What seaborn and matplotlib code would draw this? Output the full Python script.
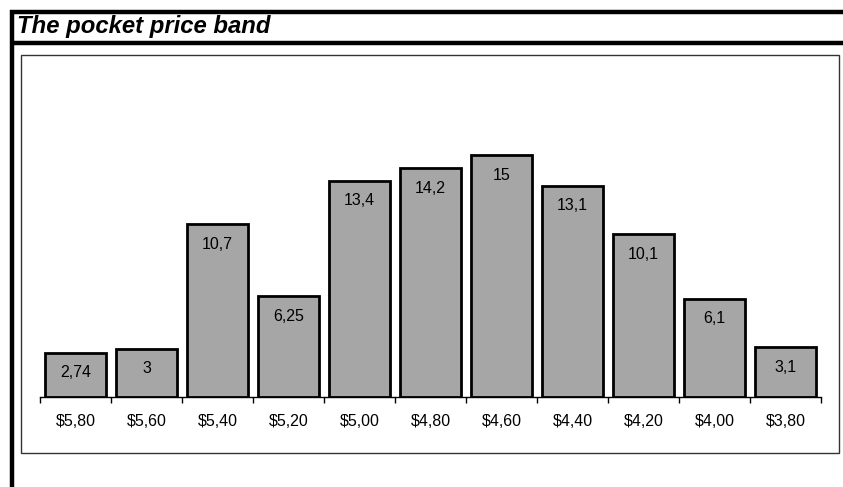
import matplotlib
matplotlib.use("Agg")
import matplotlib.pyplot as plt
import seaborn as sns
import pandas as pd
from matplotlib.patches import Rectangle
from matplotlib.lines import Line2D

prices = ["$5,80", "$5,60", "$5,40", "$5,20", "$5,00", "$4,80",
          "$4,60", "$4,40", "$4,20", "$4,00", "$3,80"]
shares = [2.74, 3, 10.7, 6.25, 13.4, 14.2, 15, 13.1, 10.1, 6.1, 3.1]
title = "The pocket price band"

W, H = 843, 487


def fx(px):
    return px / W


def fy(py):
    return 1 - py / H


def main():
    sns.set_style("white")
    plt.rcParams["font.family"] = ["Liberation Sans", "DejaVu Sans"]
    plt.rcParams["text.color"] = "black"
    plt.rcParams["xtick.color"] = "black"

    df = pd.DataFrame({"price": prices, "share": shares})

    fig = plt.figure(figsize=(W / 100, H / 100), dpi=100)

    # frame: thick top / left lines, title separator, inner plot box
    kw = dict(color="black", lw=3.2, solid_capstyle="butt")
    fig.add_artist(Line2D([fx(10), fx(843)], [fy(11.5), fy(11.5)], **kw))
    fig.add_artist(Line2D([fx(12), fx(12)], [fy(10), fy(487)], **kw))
    fig.add_artist(Line2D([fx(10), fx(843)], [fy(43), fy(43)], **kw))
    fig.add_artist(Rectangle((fx(21), fy(453)), fx(839) - fx(21), fy(55) - fy(453),
                             fill=False, edgecolor="#333333", lw=1))
    fig.text(fx(17), fy(27), title, fontsize=17.2, fontweight="bold", fontstyle="italic",
             va="center", ha="left", color="black")

    # axes: baseline at y=397, x from 40 to 821
    ax = fig.add_axes([fx(40), fy(397), fx(821) - fx(40), fy(80) - fy(397)])
    sns.barplot(data=df, x="price", y="share", color="#A6A6A6", saturation=1,
                edgecolor="black", linewidth=2, width=0.85, ax=ax)
    ax.set_xlim(-0.5, len(prices) - 0.5)
    ax.set_ylim(0, 317 / (242 / 15))

    for i, v in enumerate(shares):
        ax.annotate(f"{v:g}".replace(".", ","), (i, v), xytext=(0, -14.5),
                    textcoords="offset points", ha="center", va="center",
                    fontsize=11.5, color="black")

    for s in ["top", "left", "right"]:
        ax.spines[s].set_visible(False)
    ax.spines["bottom"].set_color("black")
    ax.spines["bottom"].set_linewidth(1)
    ax.set_yticks([])
    ax.set_xlabel("")
    ax.set_ylabel("")
    ax.set_xticks(range(len(prices)))
    ax.set_xticklabels(prices, fontsize=11.5)
    ax.set_xticks([i - 0.5 for i in range(len(prices) + 1)], minor=True)
    ax.tick_params(axis="x", which="major", length=0, pad=12)
    ax.tick_params(axis="x", which="minor", length=4, width=1, color="black", direction="out", bottom=True)
    ax.patch.set_alpha(0)

    plt.savefig("out.png", dpi=100)


if __name__ == "__main__":
    main()
